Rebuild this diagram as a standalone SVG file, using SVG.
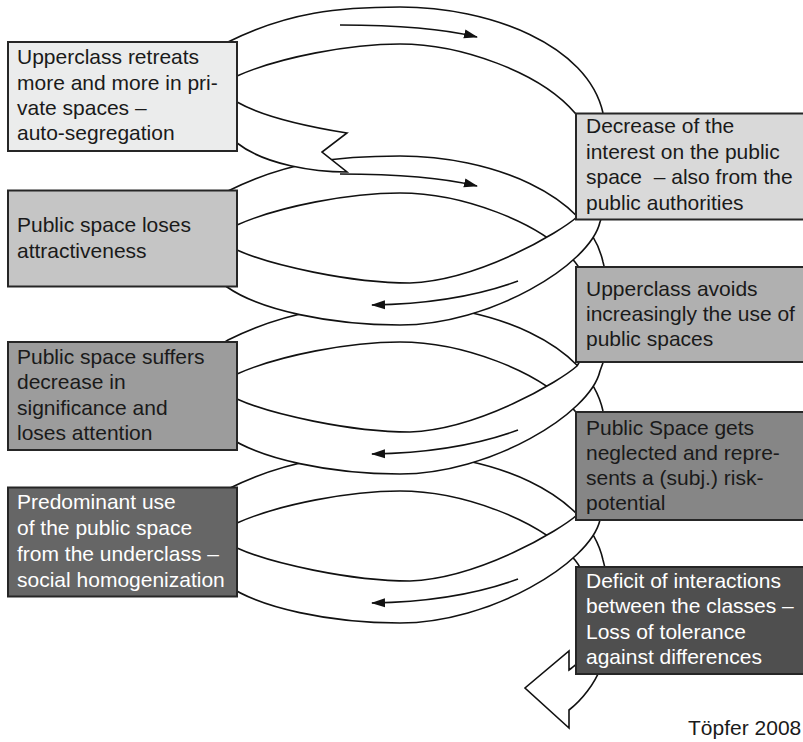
<svg xmlns="http://www.w3.org/2000/svg" xmlns:xlink="http://www.w3.org/1999/xlink" width="803" height="742" viewBox="0 0 803 742">
  <style>
    .band { fill: #ffffff; stroke: #111111; stroke-width: 1.6; stroke-linejoin: miter; }
    .flow { fill: none; stroke: #111111; stroke-width: 1.6; }
    .box rect { stroke: #262626; stroke-width: 2; }
    .box text { font-family: "Liberation Sans", Arial, Helvetica, sans-serif; font-size: 21px; fill: #1a1a1a; }
    .box.dark text { fill: #ffffff; }
    .credit { font-family: "Liberation Sans", Arial, Helvetica, sans-serif; font-size: 21px; fill: #1a1a1a; }
  </style>
  <defs>
    <marker id="head" markerWidth="14" markerHeight="10" refX="13" refY="5" orient="auto" markerUnits="userSpaceOnUse">
      <path d="M0,0.5 L14,5 L0,9.5 Z" fill="#111111"/>
    </marker>
    <!-- rear half of one turn of the ribbon (left to right, over the top) -->
    <path id="rearHalf" class="band" d="M 205,100 C 207,70 212,50 228,42 C 288,12 340,7 400,7 C 490,7 588,45 603,113 C 608,133 612,148 612,165 L 590,165 C 590,145 585,125 575,113 C 540,72 460,44 400,44 C 350,44 280,57 237,76 C 228,80 226,86 226,95 Z"/>
    <!-- front half of one turn (right to left, under the bottom) -->
    <path id="frontHalf" class="band" d="M 612,165 C 612,185 607,205 600,222 C 590,265 490,325 400,325 C 330,325 260,310 227,287 C 207,273 198,258 198,240 L 226,240 C 226,244 230,247 237,250 C 270,265 350,283 410,283 C 480,280 560,232 577,217 C 585,205 590,190 590,165 Z"/>
    <path id="rearArrow" class="flow" d="M 340,25 C 390,25 440,28 477,37" marker-end="url(#head)"/>
    <path id="frontArrow" class="flow" d="M 518,281 C 480,295 430,304 372,305" marker-end="url(#head)"/>
  </defs>

  <rect width="803" height="742" fill="#ffffff"/>

  <g id="spiral">
    <!-- rear halves, deepest first -->
    <use xlink:href="#rearHalf" href="#rearHalf" y="447"/>
    <use xlink:href="#rearHalf" href="#rearHalf" y="298"/>
    <use xlink:href="#rearHalf" href="#rearHalf" y="149"/>
    <use xlink:href="#rearArrow" href="#rearArrow" y="149"/>
    <use xlink:href="#rearHalf" href="#rearHalf"/>
    <use xlink:href="#rearArrow" href="#rearArrow"/>

    <!-- front halves -->
    <use xlink:href="#frontHalf" href="#frontHalf"/>
    <use xlink:href="#frontArrow" href="#frontArrow"/>
    <use xlink:href="#frontHalf" href="#frontHalf" y="149"/>
    <use xlink:href="#frontArrow" href="#frontArrow" y="149"/>
    <use xlink:href="#frontHalf" href="#frontHalf" y="298"/>
    <use xlink:href="#frontArrow" href="#frontArrow" y="298"/>

    <!-- notched tail where the ribbon begins -->
    <path id="tail" class="band" d="M 226,95 C 227,98 231,100 237,102 C 265,118 310,127 347,133 L 322,152 L 347,172 C 315,172 265,165 237,143 C 222,135 208,120 205,100 Z"/>

    <!-- broad arrowhead where the ribbon ends -->
    <path id="endHead" class="band" d="M 612,612 C 612,632 607,652 600,669 C 595,683 582,700 569,710 L 569,728 L 525,688 L 569,651 L 569,670 C 572,668 575,665 577,664 C 585,652 590,637 590,612 Z"/>
  </g>

  <g id="n1" class="box">
    <rect x="8" y="42" width="229" height="109" fill="#ebecec"/>
    <text x="17" y="64">Upperclass retreats</text>
    <text x="17" y="90">more and more in pri-</text>
    <text x="17" y="115">vate spaces –</text>
    <text x="17" y="140">auto-segregation</text>
  </g>

  <g id="n2" class="box">
    <rect x="576" y="113.5" width="240" height="106" fill="#d9d9d9"/>
    <text x="586" y="133">Decrease of the</text>
    <text x="586" y="158.5">interest on the public</text>
    <text x="586" y="184" xml:space="preserve">space  – also from the</text>
    <text x="586" y="209.5">public authorities</text>
  </g>

  <g id="n3" class="box">
    <rect x="8" y="190.5" width="229" height="96" fill="#c5c5c5"/>
    <text x="17" y="232">Public space loses</text>
    <text x="17" y="257.5">attractiveness</text>
  </g>

  <g id="n4" class="box">
    <rect x="576" y="267" width="240" height="95" fill="#b0b0b0"/>
    <text x="586" y="296">Upperclass avoids</text>
    <text x="586" y="321">increasingly the use of</text>
    <text x="586" y="346">public spaces</text>
  </g>

  <g id="n5" class="box">
    <rect x="8" y="342" width="229" height="108" fill="#9c9c9c"/>
    <text x="17" y="363.5">Public space suffers</text>
    <text x="17" y="389">decrease in</text>
    <text x="17" y="414.5">significance and</text>
    <text x="17" y="440">loses attention</text>
  </g>

  <g id="n6" class="box">
    <rect x="576" y="412" width="240" height="108" fill="#868686"/>
    <text x="586" y="435">Public Space gets</text>
    <text x="586" y="460">neglected and repre-</text>
    <text x="586" y="485">sents a (subj.) risk-</text>
    <text x="586" y="510">potential</text>
  </g>

  <g id="n7" class="box dark">
    <rect x="8" y="487.5" width="229" height="109" fill="#666666"/>
    <text x="17" y="509">Predominant use</text>
    <text x="17" y="535">of the public space</text>
    <text x="17" y="561">from the underclass –</text>
    <text x="17" y="587">social homogenization</text>
  </g>

  <g id="n8" class="box dark">
    <rect x="576" y="567" width="240" height="107" fill="#4f4f4f"/>
    <text x="586" y="588">Deficit of interactions</text>
    <text x="586" y="613">between the classes –</text>
    <text x="586" y="639">Loss of tolerance</text>
    <text x="586" y="664">against differences</text>
  </g>

  <text class="credit" x="688" y="735">Töpfer 2008</text>
</svg>
